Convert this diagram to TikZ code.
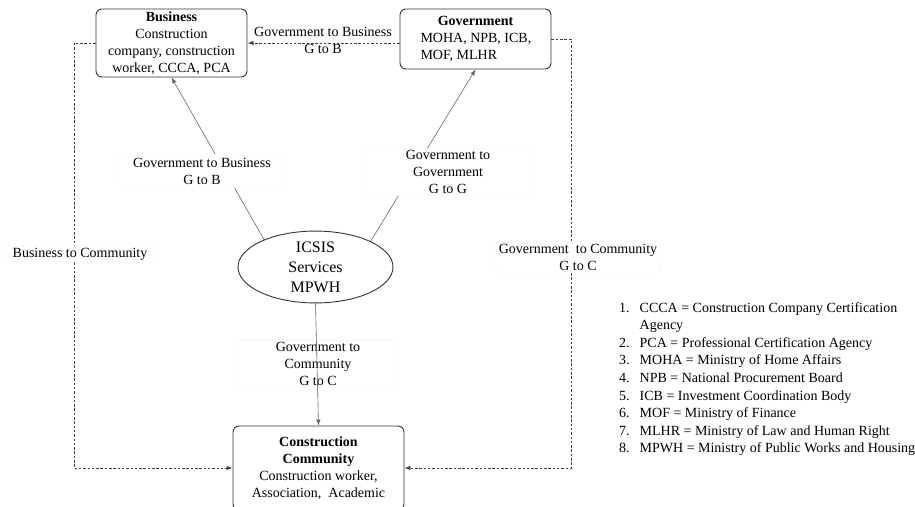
\documentclass[tikz,border=0pt]{standalone}
\usepackage{fontspec}
\setmainfont{Liberation Serif}
\usetikzlibrary{arrows.meta,shapes.geometric,positioning}
\tikzset{
  actor/.style={draw=black!80,line width=0.9pt,rounded corners=6pt,align=center,inner sep=1pt},
  flow/.style={draw=black!60,line width=0.6pt,-{Latex[length=6pt,width=4.5pt]}},
  dflow/.style={draw=black!75,line width=0.9pt,dash pattern=on 2.5pt off 1.8pt,-{Latex[length=6pt,width=4.5pt]}},
  flowlabel/.style={draw=black!4,rounded corners=4pt,align=center,inner sep=2pt},
}
\newcommand{\bodyfont}{\fontsize{14}{17}\selectfont}
\begin{document}
\begin{tikzpicture}[x=1pt,y=-1pt,font=\bodyfont]
\useasboundingbox (0,0) rectangle (915,506);
\clip (0,0) rectangle (915,506);
% actors
\node [actor,minimum width=151pt,minimum height=68pt] (business) at (171.5,43)
  {\textbf{Business}\\Construction\\company, construction\\worker, CCCA, PCA};
\node [actor,minimum width=151pt,minimum height=60pt] (govt) at (475.5,39)
  {\textbf{Government}\\\makebox[110pt][l]{MOHA, NPB, ICB,}\\\makebox[110pt][l]{MOF, MLHR}};
\node [draw=black!80,line width=0.9pt,ellipse,minimum width=155pt,minimum height=66pt,
  inner sep=0pt,align=center,font=\fontsize{16}{20}\selectfont] (icsis) at (315.5,267)
  {ICSIS\\Services\\MPWH};
\node [actor,minimum width=171pt,minimum height=84pt] (community) at (318.5,468)
  {\textbf{Construction}\\\textbf{Community}\\Construction worker,\\Association,~ Academic};
% bends of the dashed flows
\coordinate (bcbend) at (74,468);
\coordinate (gcbend) at (571,468);
% G to B and G to G
\draw [flow] (icsis.152) -- (business.south);
\draw [flow] (icsis.25) -- (govt.south);
\node [flowlabel,fill=white,minimum width=165pt,minimum height=34pt] (gtb) at (202,171)
  {Government to Business\\G to B};
\node [flowlabel,fill=white,minimum width=163pt] (gtg) at (448,172)
  {Government to\\Government\\G to G};
% G to C (line drawn over its label)
\node [flowlabel,minimum width=163pt] (gtc) at (318,364)
  {Government to\\Community\\G to C};
\draw [flow] (icsis.south) -- (community.north);
% dashed flows
\draw [dflow] (govt.west |- business.east) -- (business.east);
\node [align=center,inner sep=0pt] (gtbtop) at (323,40) {Government to Business\\G to B};
\draw [dflow] (business.west) -| (bcbend) -- (community.west);
\node [flowlabel,fill=white,minimum width=160pt] (btc) at (80,254) {Business to Community};
\draw [dflow] (govt.east) -| (gcbend) -- (community.east);
\node [flowlabel,fill=white,minimum width=165pt] (gtcright) at (578,257)
  {Government~ to Community\\G to C};
% abbreviations
\node [anchor=north west,inner sep=0pt] (legend) at (619,300)
  {\renewcommand{\arraystretch}{1.03}%
   \begin{tabular}{@{}r@{\hspace{10pt}}l@{}}
   1. & CCCA = Construction Company Certification\\
      & Agency\\
   2. & PCA = Professional Certification Agency\\
   3. & MOHA = Ministry of Home Affairs\\
   4. & NPB = National Procurement Board\\
   5. & ICB = Investment Coordination Body\\
   6. & MOF = Ministry of Finance\\
   7. & MLHR = Ministry of Law and Human Right\\
   8. & MPWH = Ministry of Public Works and Housing
   \end{tabular}};
\end{tikzpicture}
\end{document}
